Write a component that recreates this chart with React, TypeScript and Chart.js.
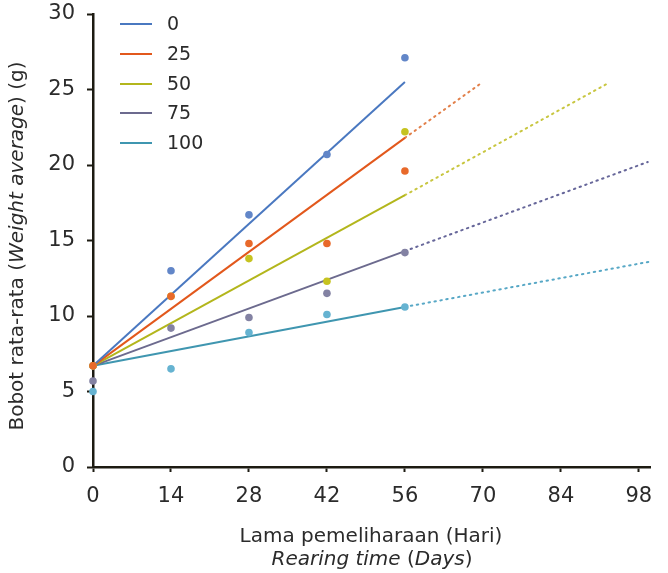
import React, { useEffect, useRef } from 'react';
import { Chart, registerables } from 'chart.js';

Chart.register(...registerables);

// ---- data ----
const days = [0, 14, 28, 42, 56];
const seriesLabels = ['0', '25', '50', '75', '100'];
const weight0 = [6.7, 13.0, 16.7, 20.7, 27.1];
const weight25 = [6.7, 11.3, 14.8, 14.8, 19.6];
const weight50 = [6.7, 11.3, 13.8, 12.3, 22.2];
const weight75 = [5.7, 9.2, 9.9, 11.5, 14.2];
const weight100 = [5.0, 6.5, 8.9, 10.1, 10.6];
const allWeights = [weight0, weight25, weight50, weight75, weight100];

// regression lines (solid 0..56) and their dotted projections
const trendStartDay = 0;
const trendEndDay = 56;
const trendStart = [6.7, 6.7, 6.7, 6.7, 6.7];
const trendAt56 = [25.5, 21.8, 18.0, 14.3, 10.6];
const projEndDay: (number | null)[] = [null, 70, 92.4, 99.6, 100];
const projEndValue: (number | null)[] = [null, 25.5, 25.4, 20.2, 13.6];

const xTicks = [0, 14, 28, 42, 56, 70, 84, 98];
const yTicks = [0, 5, 10, 15, 20, 25, 30];

// ---- styles ----
const lineColors = ['#4a78c0', '#e2581c', '#b3b61c', '#6c6a8e', '#3f96b0'];
const pointColors = ['#6286c8', '#e8692a', '#c6c320', '#8382a3', '#66b3d1'];
const dottedColors = ['#4a78c0', '#e2804a', '#c8c640', '#67679a', '#58a8c6'];
const FONT = '"DejaVu Sans", "Noto Sans", sans-serif';
const TEXT = '#2b2b2b';
const AXIS = '#1d1b12';

type Seg = { t: string; italic?: boolean };

function drawSegments(ctx: CanvasRenderingContext2D, segs: Seg[], cx: number, y: number, size: number) {
  let total = 0;
  const widths = segs.map((s) => {
    ctx.font = `${s.italic ? 'italic ' : ''}${size}px ${FONT}`;
    const w = ctx.measureText(s.t).width;
    total += w;
    return w;
  });
  let x = cx - total / 2;
  segs.forEach((s, i) => {
    ctx.font = `${s.italic ? 'italic ' : ''}${size}px ${FONT}`;
    ctx.fillText(s.t, x, y);
    x += widths[i];
  });
}

const textPlugin = {
  id: 'customText',
  afterDraw(chart: any) {
    const ctx: CanvasRenderingContext2D = chart.ctx;
    ctx.save();
    ctx.fillStyle = TEXT;
    ctx.textAlign = 'left';
    ctx.textBaseline = 'alphabetic';
    // x title
    drawSegments(ctx, [{ t: 'Lama pemeliharaan (Hari)' }], 371, 542, 20);
    drawSegments(
      ctx,
      [{ t: 'Rearing time', italic: true }, { t: ' (' }, { t: 'Days', italic: true }, { t: ')' }],
      372,
      565,
      20
    );
    // y title
    ctx.save();
    ctx.translate(23, 246);
    ctx.rotate(-Math.PI / 2);
    drawSegments(
      ctx,
      [{ t: 'Bobot rata-rata (' }, { t: 'Weight average', italic: true }, { t: ') (g)' }],
      0,
      0,
      20
    );
    ctx.restore();
    // legend
    const rowY = [24, 54, 84, 113, 143];
    ctx.textBaseline = 'middle';
    ctx.font = `19px ${FONT}`;
    seriesLabels.forEach((lab, i) => {
      ctx.strokeStyle = lineColors[i];
      ctx.lineWidth = 2;
      ctx.beginPath();
      ctx.moveTo(120, rowY[i]);
      ctx.lineTo(152, rowY[i]);
      ctx.stroke();
      ctx.fillStyle = TEXT;
      ctx.fillText(lab, 167, rowY[i] + 1);
    });
    ctx.restore();
  },
};

export default function App() {
  const ref = useRef<HTMLCanvasElement | null>(null);

  useEffect(() => {
    if (!ref.current) return;
    const datasets: any[] = [];
    const pointOrder = [1, 2, 0, 3, 4];
    pointOrder.forEach((i, k) => {
      datasets.push({
        type: 'scatter',
        label: seriesLabels[i] + ' pts',
        data: days.map((d, j) => ({ x: d, y: allWeights[i][j] })),
        backgroundColor: pointColors[i],
        borderColor: pointColors[i],
        pointRadius: 3.8,
        pointBorderWidth: 0,
        showLine: false,
        clip: false,
        order: k,
      });
    });
    seriesLabels.forEach((lab, i) => {
      datasets.push({
        type: 'line',
        label: lab + ' trend',
        data: [
          { x: trendStartDay, y: trendStart[i] },
          { x: trendEndDay, y: trendAt56[i] },
        ],
        borderColor: lineColors[i],
        borderWidth: 2,
        pointRadius: 0,
        fill: false,
        clip: false,
        order: 10 + i,
      });
    });
    seriesLabels.forEach((lab, i) => {
      if (projEndDay[i] === null) return;
      datasets.push({
        type: 'line',
        label: lab + ' projection',
        data: [
          { x: trendEndDay, y: trendAt56[i] },
          { x: projEndDay[i], y: projEndValue[i] },
        ],
        borderColor: dottedColors[i],
        borderWidth: 2,
        borderDash: [1.5, 4.5],
        borderCapStyle: 'round',
        pointRadius: 0,
        fill: false,
        clip: false,
        order: 20 + i,
      });
    });

    const chart = new Chart(ref.current, {
      type: 'scatter',
      data: { datasets },
      options: {
        animation: false,
        responsive: true,
        maintainAspectRatio: false,
        layout: { padding: { top: 14, right: 18, left: 0, bottom: 0 } },
        plugins: { legend: { display: false }, tooltip: { enabled: false } },
        scales: {
          x: {
            type: 'linear',
            min: 0,
            max: 100,
            afterBuildTicks: (scale: any) => {
              scale.ticks = xTicks.map((v) => ({ value: v }));
            },
            afterFit: (scale: any) => {
              scale.height = 573 - 467;
              scale.paddingLeft = 0;
              scale.paddingRight = 0;
            },
            grid: {
              display: true,
              drawOnChartArea: false,
              drawTicks: true,
              tickLength: 5,
              tickWidth: 2,
              tickColor: AXIS,
            },
            border: { display: true, color: AXIS, width: 2.5 },
            ticks: {
              color: TEXT,
              font: { family: FONT, size: 21 },
              padding: 12,
              maxRotation: 0,
              autoSkip: false,
            },
          },
          y: {
            type: 'linear',
            min: 0,
            max: 30,
            afterBuildTicks: (scale: any) => {
              scale.ticks = yTicks.map((v) => ({ value: v }));
            },
            afterFit: (scale: any) => {
              scale.width = 93;
              scale.paddingTop = 0;
              scale.paddingBottom = 0;
            },
            grid: {
              display: true,
              drawOnChartArea: false,
              drawTicks: true,
              tickLength: 6,
              tickWidth: 2,
              tickColor: AXIS,
            },
            border: { display: true, color: AXIS, width: 2.5 },
            ticks: {
              color: TEXT,
              font: { family: FONT, size: 21 },
              padding: 12,
              autoSkip: false,
            },
          },
        },
      },
      plugins: [textPlugin],
    });
    return () => chart.destroy();
  }, []);

  return (
    <div style={{ position: 'fixed', left: 0, top: 0, width: 668, height: 573 }}>
      <canvas ref={ref} />
    </div>
  );
}
